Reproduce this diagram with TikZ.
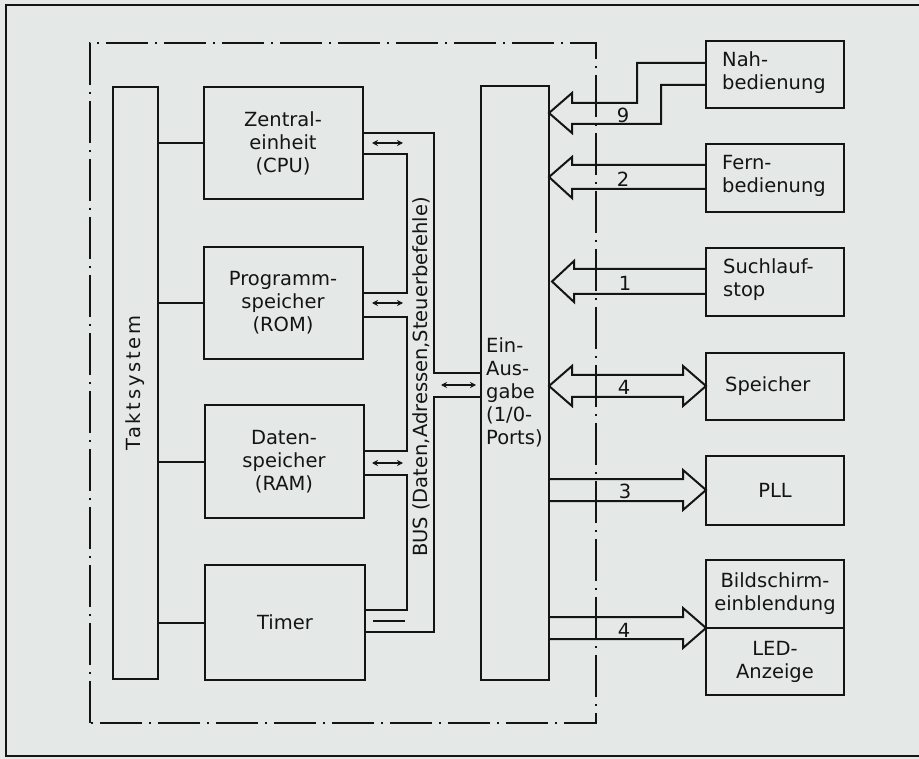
\documentclass[tikz,border=0pt]{standalone}
\usepackage{fontspec}
\setmainfont{DejaVu Sans}
\usetikzlibrary{arrows.meta,calc}
\definecolor{bgc}{RGB}{228,233,231}
\definecolor{ink}{RGB}{20,20,20}
\tikzset{
  box/.style={draw=ink, line width=2pt, inner sep=0pt, outer sep=0pt, align=center,
    font=\fontsize{19.5}{23}\selectfont, text=ink},
  conn/.style={draw=ink, line width=2pt, line join=miter},
  lbl/.style={font=\fontsize{19.5}{23}\selectfont, text=ink, inner sep=0pt},
  dashdot/.style={draw=ink, line width=1.5pt, dash pattern=on 42pt off 7pt on 2pt off 7pt},
  tiny/.style={draw=ink, line width=1.6pt, {Stealth[length=6pt,width=6pt]}-{Stealth[length=6pt,width=6pt]}}
}
\begin{document}
\begin{tikzpicture}[x=1pt,y=-1pt]
\useasboundingbox (0,0) rectangle (919,759);
\fill[bgc] (0,0) rectangle (919,759);
% outer frame
\draw[ink, line width=2pt] (919,5) -- (6,5) -- (6,756) -- (919,756);
% dash-dot chip outline
\draw[dashdot] (90,723) -- (90,43) -- (596,43) -- (596,723) -- cycle;
% blocks
\node[box, minimum width=45pt, minimum height=592pt] (takt) at (135.5,383) {};
\node[lbl, rotate=90] at (takt) {\addfontfeature{LetterSpace=14}Taktsystem};
\node[box, minimum width=159pt, minimum height=112pt] (cpu) at (283,143) {Zentral-\\einheit\\(CPU)};
\node[box, minimum width=159pt, minimum height=112pt] (rom) at (283,303) {Programm-\\speicher\\(ROM)};
\node[box, minimum width=159pt, minimum height=113pt] (ram) at (284,461.5) {Daten-\\speicher\\(RAM)};
\node[box, minimum width=160pt, minimum height=115pt] (timer) at (285,622.5) {Timer};
\node[box, minimum width=68pt, minimum height=594pt] (io) at (515,383) {};
\node[lbl, anchor=west, align=left] at (486,392) {Ein-\\Aus-\\gabe\\(1/0-\\Ports)};
% right blocks
\node[box, minimum width=138pt, minimum height=67pt] (nah) at (775,74.5) {};
\node[lbl, anchor=west, align=left] at (722,73) {Nah-\\bedienung};
\node[box, minimum width=138pt, minimum height=68pt] (fern) at (775,178) {};
\node[lbl, anchor=west, align=left] at (722,176) {Fern-\\bedienung};
\node[box, minimum width=138pt, minimum height=68pt] (such) at (775,282) {};
\node[lbl, anchor=west, align=left] at (723,280) {Suchlauf-\\stop};
\node[box, minimum width=138pt, minimum height=67pt] (spei) at (775,386.5) {};
\node[lbl, anchor=west] at (725,386) {Speicher};
\node[box, minimum width=138pt, minimum height=69pt] (pll) at (775,490.5) {PLL};
\node[box, minimum width=138pt, minimum height=68pt] (bild) at (775,594) {Bildschirm-\\einblendung};
\node[box, minimum width=138pt, minimum height=67pt] (led) at (775,661.5) {LED-\\Anzeige};
% clock lines
\draw[conn] (takt.east |- cpu) -- (cpu.west);
\draw[conn] (takt.east |- rom) -- (rom.west);
\draw[conn] (takt.east |- ram) -- (ram.west);
\draw[conn] (takt.east |- timer) -- (timer.west);
% bus
\draw[conn] (cpu.east |- 0,133) -- (434,133) -- (434,373) -- (io.west |- 0,373);
\draw[conn] (cpu.east |- 0,154) -- (407,154) -- (407,293) -- (rom.east |- 0,293);
\draw[conn] (rom.east |- 0,317) -- (407,317) -- (407,451) -- (ram.east |- 0,451);
\draw[conn] (ram.east |- 0,475) -- (407,475) -- (407,610) -- (timer.east |- 0,610);
\draw[conn] (timer.east |- 0,632) -- (434,632) -- (434,397) -- (io.west |- 0,397);
\draw[tiny] (372,143) -- (403,143);
\draw[tiny] (372,303) -- (403,303);
\draw[tiny] (372,463) -- (403,463);
\draw[ink, line width=1.8pt] (373,621) -- (405,621);
\draw[tiny] (441,385) -- (476,385);
\node[lbl, rotate=90, font=\fontsize{19.5}{23}\selectfont] at (421,377) {BUS (Daten,Adressen,Steuerbefehle)};
% fat arrows
\draw[conn] (nah.west |- 0,63) -- (637,63) -- (637,103) -- (572,103) -- (572,93) -- (io.east |- 0,113) -- (572,133) -- (572,124) -- (661,124) -- (661,85) -- (nah.west |- 0,85);
\draw[conn] (fern.west |- 0,165) -- (572,165) -- (572,157) -- (io.east |- 0,177) -- (572,198) -- (572,189) -- (fern.west |- 0,189);
\draw[conn] (such.west |- 0,269) -- (574,269) -- (574,261) -- ($(io.east |- 0,281.5)+(3,0)$) -- (574,302) -- (574,294) -- (such.west |- 0,294);
\draw[conn] (572,375) -- (572,366) -- (io.east |- 0,386) -- (572,406) -- (572,397) -- (683,397) -- (683,406) -- (spei.west |- 0,386) -- (683,366) -- (683,375) -- cycle;
\draw[conn] (io.east |- 0,479) -- (683,479) -- (683,470) -- (pll.west |- 0,490) -- (683,510) -- (683,501) -- (io.east |- 0,501);
\draw[conn] (io.east |- 0,617) -- (683,617) -- (683,608) -- (bild.south west) -- (683,648) -- (683,639) -- (io.east |- 0,639);
% bus widths
\node[lbl] at (623,115) {9};
\node[lbl] at (623,179) {2};
\node[lbl] at (625,283) {1};
\node[lbl] at (624,387) {4};
\node[lbl] at (625,491) {3};
\node[lbl] at (624,630) {4};
\end{tikzpicture}
\end{document}
